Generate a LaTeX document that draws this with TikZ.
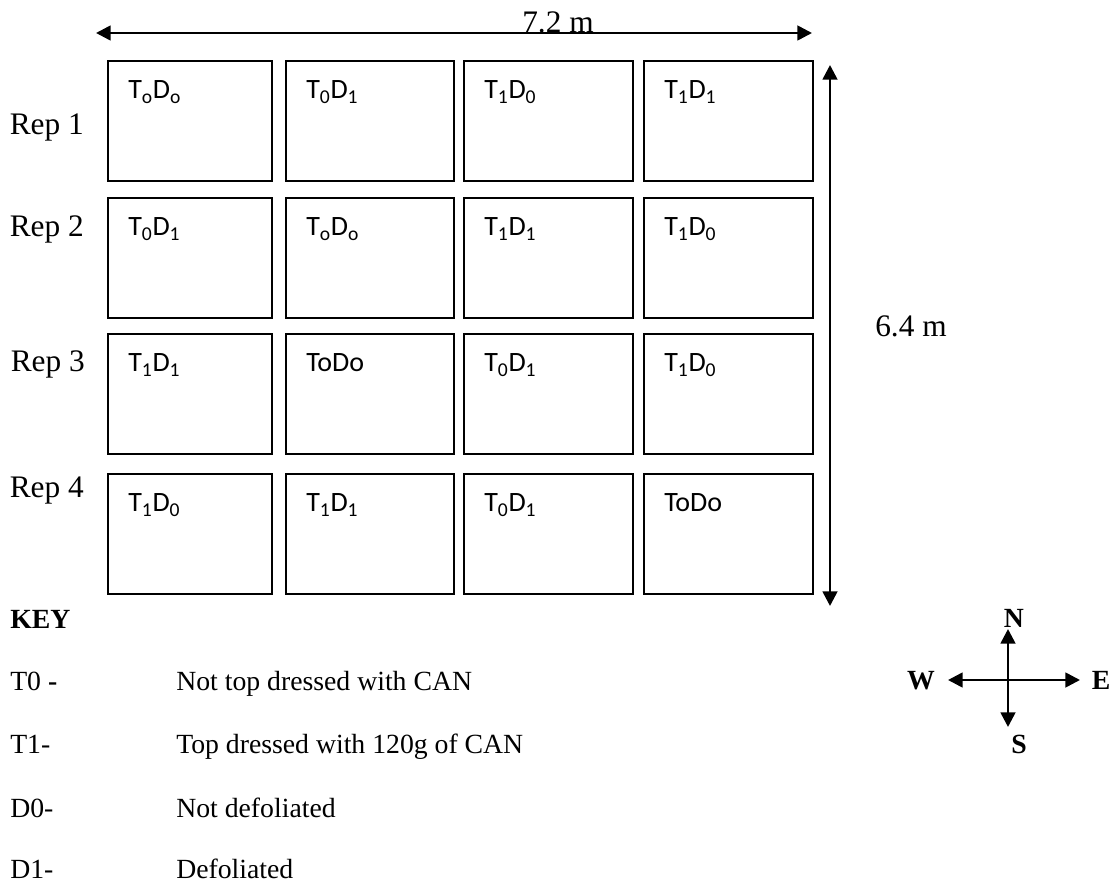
\documentclass[tikz,border=0pt]{standalone}
\usepackage{fontspec}
\setmainfont{Liberation Serif}
\newfontfamily\cellfont{Carlito}
\usetikzlibrary{arrows.meta}
\begin{document}
\begin{tikzpicture}[x=0.75pt,y=-0.75pt,
  cell/.style={draw,line width=1.5pt,minimum height=90pt,inner sep=0pt},
  celltext/.style={anchor=base west,inner sep=0pt,font=\cellfont\fontsize{21}{25}\selectfont},
  serif/.style={inner sep=0pt,font=\fontsize{20.8}{25}\selectfont},
  bigserif/.style={inner sep=0pt,font=\fontsize{23.5}{28}\selectfont},
  serifb/.style={inner sep=0pt,font=\fontsize{20.8}{25}\selectfont\bfseries},
  dimarrow/.style={line width=2pt,{Triangle[length=11pt,width=11pt]}-{Triangle[length=11pt,width=11pt]}},
  comparrow/.style={line width=2pt,-{Triangle[length=11pt,width=11pt]}}]
\useasboundingbox (0,0) rectangle (1115,884);
\def\cellrow#1#2#3#4#5#6{%
  \node[cell,minimum width=123pt]   (c#1a) at (190,#2) {};
  \node[cell,minimum width=126pt]   (c#1b) at (370,#2) {};
  \node[cell,minimum width=126.75pt] (c#1c) at (548.5,#2) {};
  \node[cell,minimum width=126.75pt] (c#1d) at (728.5,#2) {};
  \node[celltext] (t#1a) at ([shift={(21,39)}]c#1a.north west) {#3};
  \node[celltext] (t#1b) at ([shift={(21,39)}]c#1b.north west) {#4};
  \node[celltext] (t#1c) at ([shift={(21,39)}]c#1c.north west) {#5};
  \node[celltext] (t#1d) at ([shift={(21,39)}]c#1d.north west) {#6};
}
\cellrow{1}{121}{T\textsubscript{o}D\textsubscript{o}}{T\textsubscript{0}D\textsubscript{1}}{T\textsubscript{1}D\textsubscript{0}}{T\textsubscript{1}D\textsubscript{1}}
\cellrow{2}{258}{T\textsubscript{0}D\textsubscript{1}}{T\textsubscript{o}D\textsubscript{o}}{T\textsubscript{1}D\textsubscript{1}}{T\textsubscript{1}D\textsubscript{0}}
\cellrow{3}{394}{T\textsubscript{1}D\textsubscript{1}}{ToDo}{T\textsubscript{0}D\textsubscript{1}}{T\textsubscript{1}D\textsubscript{0}}
\cellrow{4}{534}{T\textsubscript{1}D\textsubscript{0}}{T\textsubscript{1}D\textsubscript{1}}{T\textsubscript{0}D\textsubscript{1}}{ToDo}
% rep labels
\node[bigserif,anchor=base east] (r1) at (84,135) {Rep 1};
\node[bigserif,anchor=base east] (r2) at (84,237) {Rep 2};
\node[bigserif,anchor=base east] (r3) at (85,372) {Rep 3};
\node[bigserif,anchor=base east] (r4) at (84,498) {Rep 4};
% dimension arrows
\coordinate (hl) at (96,33);
\coordinate (hr) at (812,33);
\draw[dimarrow] (hl) -- (hr);
\node[bigserif,anchor=base] (w72) at (558,33) {7.2 m};
\coordinate (vt) at (830,65);
\coordinate (vb) at (830,606);
\draw[dimarrow] (vt) -- (vb);
\node[bigserif,anchor=base west] (h64) at (875,337) {6.4 m};
% key
\node[serifb,anchor=base west] (key) at (10,628) {KEY};
\node[serif,anchor=base west] (k1) at (10,690) {T0 \textbf{-}};
\node[serif,anchor=base west] (k2) at (10,753) {T1-};
\node[serif,anchor=base west] (k3) at (10,817) {D0-};
\node[serif,anchor=base west] (k4) at (10,878) {D1-};
\node[serif,anchor=base west] (d1) at (176,690) {Not top dressed with CAN};
\node[serif,anchor=base west] (d2) at (176,753) {Top dressed with 120g of CAN};
\node[serif,anchor=base west] (d3) at (176,817) {Not defoliated};
\node[serif,anchor=base west] (d4) at (176,878) {Defoliated};
% compass
\coordinate (cc) at (1008,680);
\coordinate (cn) at (1008,629);
\coordinate (cs) at (1008,727);
\coordinate (cw) at (948,680);
\coordinate (ce) at (1080,680);
\draw[comparrow] (cc) -- (cn);
\draw[comparrow] (cc) -- (cs);
\draw[comparrow] (cc) -- (cw);
\draw[comparrow] (cc) -- (ce);
\node[serifb,anchor=base] (ln) at (1014,627) {N};
\node[serifb,anchor=base] (ls) at (1019,753) {S};
\node[serifb,anchor=base] (lw) at (921,689) {W};
\node[serifb,anchor=base] (le) at (1101,689) {E};
\end{tikzpicture}
\end{document}
